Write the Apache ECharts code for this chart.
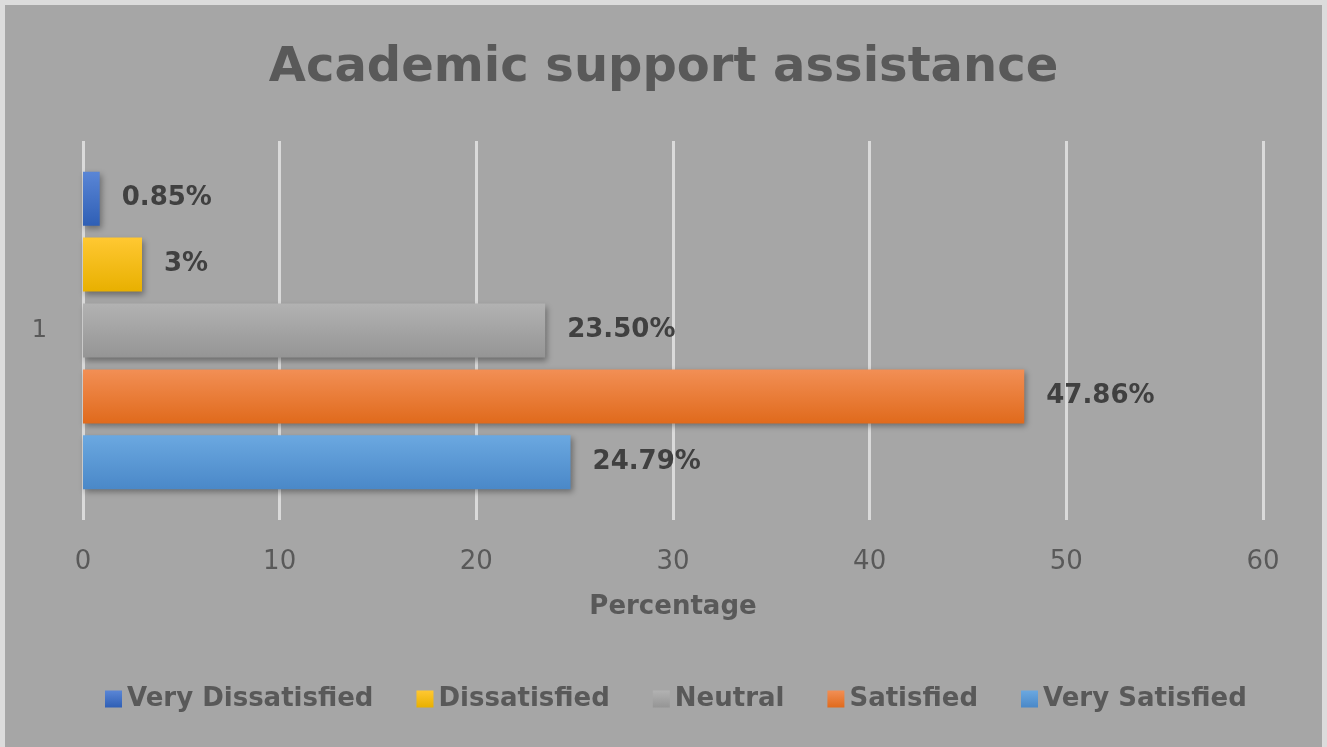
<!DOCTYPE html>
<html>
<head>
<meta charset="utf-8">
<script src="https://cdn.jsdelivr.net/npm/echarts@6/dist/echarts.min.js"></script>
<style>
  html, body { margin: 0; padding: 0; background: #dcdcdc; }
  #chart { position: absolute; left: 5px; top: 5px; width: 1317px; height: 742px; }
</style>
</head>
<body>
<div id="chart"></div>
<script>
// 数据
const categories = ['1'];
const seriesNames = ['Very Dissatisfied', 'Dissatisfied', 'Neutral', 'Satisfied', 'Very Satisfied'];
const seriesValues = [0.85, 3, 23.5, 47.86, 24.79];
const valueLabels = ['0.85%', '3%', '23.50%', '47.86%', '24.79%'];
const xTicks = [0, 10, 20, 30, 40, 50, 60];

// 颜色 (上浅下深的渐变)
const colorsTop = ['#5a86d6', '#ffc832', '#b2b2b2', '#f28f55', '#6ba8e0'];
const colorsBottom = ['#2f5fb5', '#e8b000', '#959595', '#e06a1c', '#4a88c8'];

const FONT = 'DejaVu Sans';

function drawChart() {
    let chart = echarts.init(document.getElementById('chart'));
    let series = [];
    for (let i = 0; i < seriesNames.length; i++) {
        series.push({
            type: 'bar',
            name: seriesNames[i],
            data: [seriesValues[i]],
            barWidth: 54,
            barGap: '22%',
            itemStyle: {
                color: new echarts.graphic.LinearGradient(0, 0, 0, 1, [
                    {offset: 0, color: colorsTop[i]},
                    {offset: 1, color: colorsBottom[i]}
                ]),
                shadowColor: 'rgba(0,0,0,0.35)',
                shadowBlur: 6,
                shadowOffsetY: 3,
                shadowOffsetX: 2
            },
            label: {
                show: true,
                position: 'right',
                distance: 22,
                formatter: function () { return valueLabels[i]; },
                color: '#404040',
                fontFamily: FONT,
                fontWeight: 'bold',
                fontSize: 26
            }
        });
    }
    let option = {
        backgroundColor: '#a6a6a6',
        animation: false,
        title: {
            text: 'Academic support assistance',
            left: 'center',
            top: 35,
            textStyle: {
                color: '#595959',
                fontFamily: FONT,
                fontWeight: 'bold',
                fontSize: 48
            }
        },
        legend: {
            data: seriesNames,
            bottom: 30,
            left: 95,
            itemWidth: 17,
            itemHeight: 17,
            itemGap: 43,
            itemStyle: {borderWidth: 0},
            icon: 'rect',
            textStyle: {
                color: '#595959',
                fontFamily: FONT,
                fontWeight: 'bold',
                fontSize: 26
            }
        },
        grid: {
            left: 78,
            right: 59,
            top: 136,
            bottom: 227
        },
        xAxis: {
            type: 'value',
            min: xTicks[0],
            max: xTicks[xTicks.length - 1],
            interval: 10,
            name: 'Percentage',
            nameLocation: 'middle',
            nameGap: 74,
            nameTextStyle: {
                color: '#595959',
                fontFamily: FONT,
                fontWeight: 'bold',
                fontSize: 26
            },
            axisLine: {show: false},
            axisTick: {show: false},
            axisLabel: {
                color: '#595959',
                fontFamily: FONT,
                fontSize: 26,
                margin: 29
            },
            splitLine: {
                lineStyle: {color: '#dadada', width: 3}
            }
        },
        yAxis: {
            type: 'category',
            data: categories,
            inverse: true,
            axisLine: {show: false},
            axisTick: {show: false},
            axisLabel: {
                color: '#595959',
                fontFamily: FONT,
                fontSize: 24,
                margin: 36
            }
        },
        series: series
    };
    chart.setOption(option);
}

drawChart();
</script>
</body>
</html>
